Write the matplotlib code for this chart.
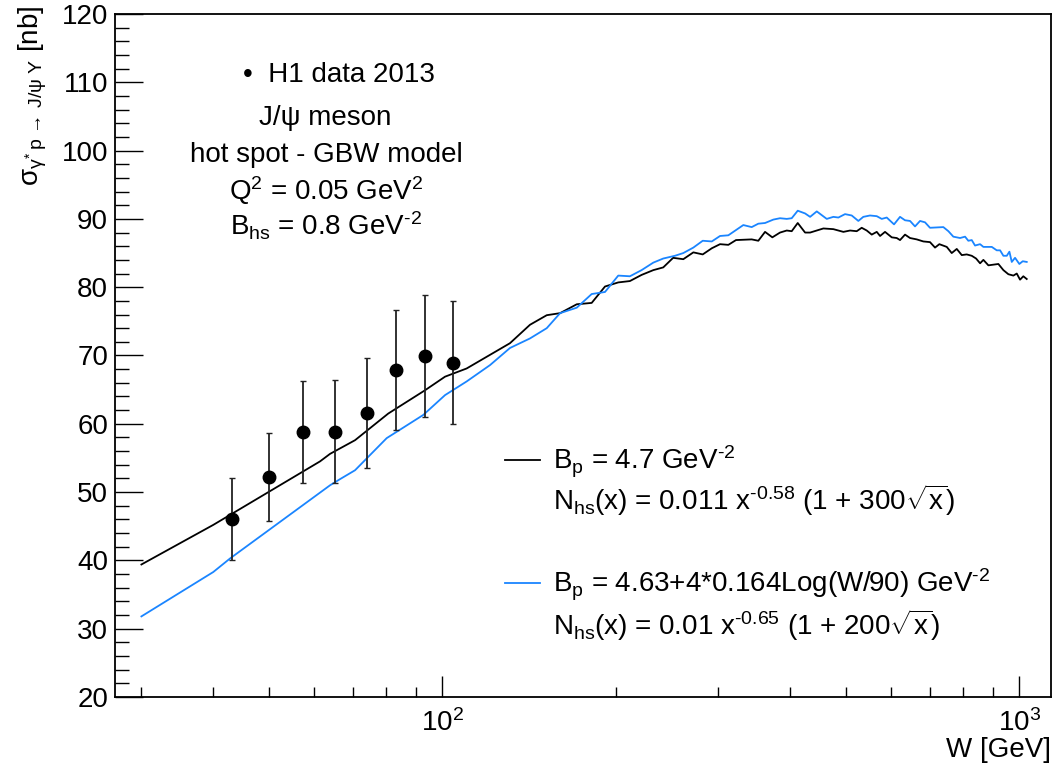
import numpy as np
import matplotlib
matplotlib.use("Agg")
import matplotlib.pyplot as plt
from matplotlib.ticker import LogLocator, MultipleLocator, NullFormatter

plt.rcParams['font.family'] = ['Liberation Sans', 'DejaVu Sans']
plt.rcParams['mathtext.fontset'] = 'custom'
plt.rcParams['mathtext.rm'] = 'Liberation Sans'
plt.rcParams['mathtext.it'] = 'Liberation Sans'
plt.rcParams['mathtext.bf'] = 'Liberation Sans:bold'
plt.rcParams['mathtext.sf'] = 'Liberation Sans'

# H1 data 2013
h1_w = [43.2, 50.0, 57.4, 65.3, 74.0, 83.2, 93.4, 104.3]
h1_sigma = [46.1, 52.2, 58.8, 58.8, 61.6, 67.9, 69.9, 68.9]
h1_err_lo = [6.0, 6.5, 7.4, 7.5, 8.0, 8.8, 8.9, 9.0]
h1_err_hi = [6.0, 6.5, 7.5, 7.6, 8.0, 8.7, 9.0, 9.1]

# model, Bp = 4.7 GeV^-2
black_w = [30.1, 40.1, 61.4, 63.9, 70.6, 80.6, 93.3, 101.1, 110.2, 131.0, 141.9,
           151.7, 160.0, 171.0, 181.5, 191.4, 201.8, 211.4, 221.5, 232.1, 241.5,
           251.2, 261.6, 272.3, 282.7, 293.1, 302.9, 313.1, 322.8, 343.7, 352.9,
           362.5, 373.2, 384.8, 395.3, 403.2, 413.0, 425.3, 433.9, 457.5, 476.1,
           495.5, 508.9, 522.6, 533.1, 543.9, 554.9, 566.1, 573.6, 585.1, 601.0,
           613.1, 621.2, 633.7, 646.5, 664.0, 681.7, 700.1, 714.3, 726.7, 748.5,
           763.5, 779.0, 794.7, 810.6, 827.0, 841.4, 855.0, 866.3, 883.8, 901.5,
           919.7, 938.3, 957.1, 976.5, 989.7, 1002.8, 1016.0, 1029.9]
black_sigma = [39.4, 45.2, 54.5, 55.6, 57.6, 61.5, 64.9, 66.9, 68.1, 71.8, 74.5,
               75.9, 76.2, 77.5, 77.7, 80.1, 80.7, 80.9, 81.8, 82.5, 82.9,
               84.3, 84.1, 85.1, 84.8, 85.7, 86.3, 86.2, 86.9, 87.0, 86.8,
               88.1, 87.3, 88.0, 88.3, 88.2, 89.4, 88.0, 88.0, 88.6, 88.5,
               88.1, 88.3, 88.2, 88.7, 88.3, 87.7, 88.1, 87.5, 88.1, 87.3,
               87.2, 86.9, 87.7, 87.2, 87.0, 86.7, 86.6, 85.8, 86.3, 85.9,
               85.0, 85.6, 84.7, 84.8, 84.6, 84.2, 83.5, 84.0, 83.2, 83.3,
               83.4, 82.5, 81.9, 81.7, 82.0, 81.1, 81.6, 81.2]

# model, Bp = 4.63+4*0.164Log(W/90)
blue_w = [30.1, 40.1, 42.9, 63.9, 66.5, 70.6, 80.1, 92.7, 101.1, 110.2, 121.0,
          131.0, 141.9, 151.7, 160.0, 171.0, 181.5, 191.4, 201.8, 211.4, 221.5,
          232.1, 241.5, 253.0, 261.6, 272.3, 282.7, 293.1, 302.9, 313.1, 332.4,
          343.7, 352.9, 362.5, 374.7, 384.8, 395.3, 403.2, 413.0, 425.3, 433.9,
          445.6, 463.7, 476.1, 485.7, 498.8, 512.3, 526.0, 536.5, 551.1, 566.1,
          577.5, 589.1, 606.5, 621.2, 633.7, 646.5, 659.5, 672.8, 686.3, 700.1,
          738.4, 753.4, 768.4, 789.3, 805.2, 815.8, 827.0, 837.9, 855.0, 866.3,
          895.8, 913.8, 926.0, 938.3, 951.1, 961.1, 970.2, 983.0, 1000.0, 1013.6,
          1029.9]
blue_sigma = [31.8, 38.3, 40.3, 51.0, 51.9, 53.2, 57.9, 61.3, 64.2, 66.2, 68.6,
              71.1, 72.5, 74.0, 76.2, 77.0, 79.0, 79.3, 81.7, 81.6, 82.5,
              83.6, 84.2, 84.6, 85.0, 85.8, 86.8, 86.7, 87.5, 87.6, 89.1,
              88.8, 89.3, 89.4, 89.9, 90.1, 90.0, 90.1, 91.2, 90.8, 90.3,
              91.1, 90.0, 90.3, 90.2, 90.7, 90.5, 89.7, 90.3, 90.5, 90.4,
              90.0, 90.2, 89.2, 90.3, 89.8, 89.7, 88.9, 89.7, 89.5, 88.7,
              88.8, 88.2, 87.4, 87.2, 87.4, 86.8, 86.9, 86.1, 86.3, 85.9,
              85.9, 85.4, 85.4, 84.6, 84.6, 85.2, 83.7, 84.3, 83.4, 83.8,
              83.7]

BLUE = '#1a85ff'
HY = '\u2010'  # short hyphen like ROOT's superscript minus

fig = plt.figure(figsize=(10.57, 7.74), dpi=100)
ax = fig.add_axes([0.1088, 0.0995, 0.8855, 0.8824])

ax.plot(black_w, black_sigma, color='black', lw=1.3)
ax.plot(blue_w, blue_sigma, color=BLUE, lw=1.3)
ax.errorbar(h1_w, h1_sigma, yerr=[h1_err_lo, h1_err_hi], fmt='o', color='black',
            ecolor='#222222', elinewidth=1.3, capsize=2.5, capthick=1.0, ms=9)

ax.set_xscale('log')
ax.set_xlim(27.09, 1134.5)
ax.set_ylim(20, 120)

ax.xaxis.set_major_locator(LogLocator(base=10))
ax.xaxis.set_minor_locator(LogLocator(base=10, subs=np.arange(2, 10)))
ax.xaxis.set_minor_formatter(NullFormatter())
ax.yaxis.set_major_locator(MultipleLocator(10))
ax.yaxis.set_minor_locator(MultipleLocator(2))

ax.tick_params(axis='both', which='both', direction='in', top=False, right=False,
               width=1.0, labelsize=20)
ax.tick_params(axis='x', which='major', length=15, pad=9)
ax.tick_params(axis='x', which='minor', length=7.5)
ax.tick_params(axis='y', which='major', length=20, pad=5)
ax.tick_params(axis='y', which='minor', length=10)
for s in ax.spines.values():
    s.set_linewidth(1.3)

ax.set_xlabel('W [GeV]', fontsize=20, loc='right', labelpad=0)
fig.text(0.031, 0.993, r'$\sigma_{\gamma^{*}\,p\,\rightarrow\,J/\psi\ Y}$ [nb]',
         rotation=90, ha='center', va='top', fontsize=20)

# info block
info = ['\u2022  H1 data 2013', 'J/\u03c8 meson', 'hot spot - GBW model',
        r'Q$^{2}$ = 0.05 GeV$^{2}$', r'B$_{\rm hs}$ = 0.8 GeV$^{' + HY + '2}$']
info_x = [0.239, 0.2244, 0.2254, 0.2254, 0.2254]
info_y = [0.9004, 0.8375, 0.7833, 0.7277, 0.675]
for t, x, y in zip(info, info_x, info_y):
    ax.text(x, y, t, transform=ax.transAxes, ha='center', va='baseline', fontsize=20)

# legend for the two models
leg_lines = [r'B$_{\rm p}$ = 4.7 GeV$^{' + HY + '2}$',
             r'N$_{\rm hs}$(x) = 0.011 x$^{' + HY + r'0.58}$ (1 + 300$\sqrt{\rm x}$)',
             r'B$_{\rm p}$ = 4.63+4*0.164Log(W/90) GeV$^{' + HY + '2}$',
             r'N$_{\rm hs}$(x) = 0.01 x$^{' + HY + r'0.65}$ (1 + 200$\sqrt{\rm x}$)']
leg_y = [0.3324, 0.2738, 0.1523, 0.0908]
for t, y in zip(leg_lines, leg_y):
    ax.text(0.468, y, t, transform=ax.transAxes, ha='left', va='baseline', fontsize=20)
ax.plot([0.4167, 0.454], [0.347, 0.347], color='black', lw=1.3, transform=ax.transAxes)
ax.plot([0.4167, 0.454], [0.1669, 0.1669], color=BLUE, lw=1.3, transform=ax.transAxes)

fig.savefig('out.png', dpi=100)
